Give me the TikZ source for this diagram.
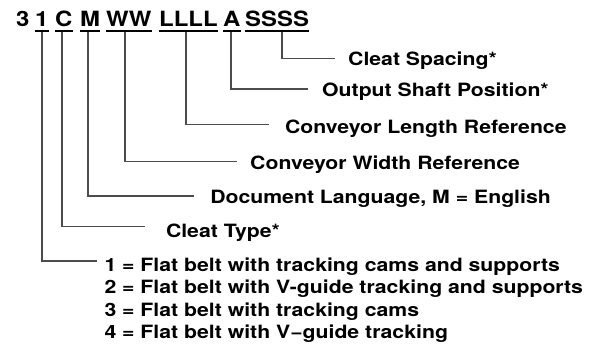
\documentclass[tikz,border=0pt]{standalone}
\usepackage{fontspec}
\newfontfamily\labfont{TeX Gyre Heros}[FakeStretch=1.16]
\newfontfamily\topfont{TeX Gyre Heros}[FakeStretch=1.14]
\begin{document}
\begin{tikzpicture}[x=1pt,y=-1pt,
  tok/.style={inner sep=0pt, anchor=base west, text depth=5pt,
    font=\topfont\bfseries\fontsize{21}{24}\selectfont},
  lab/.style={inner sep=0pt, anchor=base west,
    font=\labfont\bfseries\fontsize{18.3}{22}\selectfont},
  conn/.style={draw=black!70, line width=1.1pt},
  uline/.style={draw=black, line width=1.8pt}]
\useasboundingbox (0,0) rectangle (596,347);
% code tokens
\node[tok] (t3) at (16,27) {3};
\node[tok] (t1) at (35,27) {1};
\node[tok] (tC) at (55,27) {C};
\node[tok] (tM) at (80,27) {M};
\node[tok] (tW) at (106,27) {WW};
\node[tok] (tL) at (159,27) {LLLL};
\node[tok] (tA) at (223,27) {A};
\node[tok] (tS) at (245,27) {SSSS};
\foreach \n in {t1,tC,tM,tW,tL,tA,tS}
  \draw[uline] ([yshift=-4pt]\n.base west) -- ([yshift=-4pt]\n.base east);
% labels
\node[lab] (lS) at (348,65.5) {Cleat Spacing*};
\node[lab] (lA) at (322,97) {Output Shaft Position*};
\node[lab] (lL) at (284.8,133.3) {Conveyor Length Reference};
\node[lab] (lW) at (250,169.3) {Conveyor Width Reference};
\node[lab] (lM) at (210.1,203.3) {Document Language, M = English};
\node[lab] (lC) at (165.8,237.3) {Cleat Type*};
\node[lab] (b1) at (104.3,271) {1 = Flat belt with tracking cams and supports};
\node[lab] (b2) at (104.3,293.3) {2 = Flat belt with V-guide tracking and supports};
\node[lab] (b3) at (104.3,316.7) {3 = Flat belt with tracking cams};
\node[lab] (b4) at (104.3,338.3) {4 = Flat belt with V−guide tracking};
% connectors
\draw[conn] ([xshift=37pt]tS.south west) |- ([xshift=-13pt,yshift=7pt]lS.base west);
\draw[conn] ([xshift=8pt]tA.south west) |- ([xshift=-14pt,yshift=8pt]lA.base west);
\draw[conn] ([xshift=27pt]tL.south west) |- ([xshift=-15.5pt,yshift=9pt]lL.base west);
\draw[conn] ([xshift=19pt]tW.south west) |- ([xshift=-12.7pt,yshift=7.6pt]lW.base west);
\draw[conn] ([xshift=8pt]tM.south west) |- ([xshift=-16.1pt,yshift=7.3pt]lM.base west);
\draw[conn] ([xshift=7pt]tC.south west) |- ([xshift=-20.8pt,yshift=10.5pt]lC.base west);
\draw[conn] ([xshift=7pt]t1.south west) |- ([xshift=-7.6pt,yshift=10pt]b1.base west);
\end{tikzpicture}
\end{document}
